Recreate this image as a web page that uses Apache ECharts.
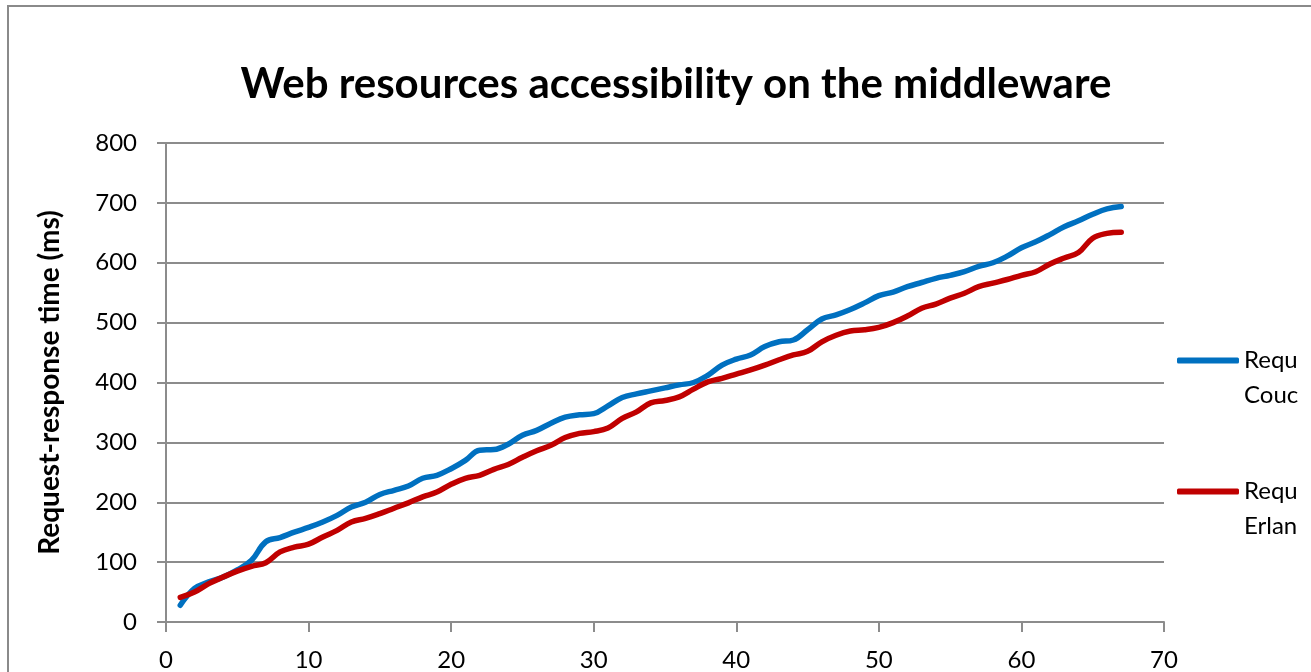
<!DOCTYPE html>
<html>
<head>
<meta charset="utf-8">
<title>Web resources accessibility on the middleware</title>
<script src="https://cdn.jsdelivr.net/npm/echarts@6/dist/echarts.min.js"></script>
<style>
  html, body { margin: 0; padding: 0; background: #ffffff; }
  #chart { width: 1311px; height: 672px; }
</style>
</head>
<body>
<div id="chart"></div>
<script>
// Request number (x axis)
const requestIndex = [
  1, 2, 3, 4, 5, 6, 7, 8, 9, 10, 11, 12, 13, 14, 15, 16, 17, 18, 19, 20,
  21, 22, 23, 24, 25, 26, 27, 28, 29, 30, 31, 32, 33, 34, 35, 36, 37, 38, 39, 40,
  41, 42, 43, 44, 45, 46, 47, 48, 49, 50, 51, 52, 53, 54, 55, 56, 57, 58, 59, 60,
  61, 62, 63, 64, 65, 66, 67
];

// Request-response time in ms, CouchDB path
const couchdbTimes = [
  28, 56, 67, 75, 87, 103, 134, 141, 150, 158, 167, 178, 192, 200, 213, 220, 227, 240, 245, 256,
  270, 287, 288, 297, 312, 320, 332, 342, 346, 348, 361, 375, 381, 386, 391, 396, 400, 412, 429, 439,
  446, 460, 468, 471, 488, 506, 513, 522, 533, 545, 551, 560, 567, 574, 579, 585, 594, 600, 611, 625,
  635, 647, 660, 670, 681, 690, 694
];

// Request-response time in ms, Erlang path
const erlangTimes = [
  41, 50, 64, 75, 85, 93, 99, 117, 125, 130, 142, 153, 167, 173, 181, 190, 199, 209, 217, 230,
  240, 245, 255, 263, 275, 286, 295, 308, 315, 318, 324, 340, 351, 366, 370, 376, 389, 401, 407, 414,
  421, 429, 438, 446, 452, 468, 479, 486, 488, 492, 500, 511, 524, 531, 541, 549, 560, 566, 572, 579,
  585, 598, 608, 617, 641, 649, 651
];

const seriesNames = ['Request-response\nCouchDB', 'Request-response\nErlang'];
const xTicks = { min: 0, max: 70, interval: 10 };
const yTicks = { min: 0, max: 800, interval: 100 };

const pair = (ys) => requestIndex.map((x, i) => [x, ys[i]]);

const gridColor = '#8c8c8c';
const fontFamily = 'Lato, "Open Sans", sans-serif';

const chart = echarts.init(document.getElementById('chart'), null, { renderer: 'canvas' });

chart.setOption({
  backgroundColor: '#ffffff',
  animation: false,
  graphic: [{
    type: 'rect',
    silent: true,
    z: -10,
    shape: { x: 8, y: 6, width: 1400, height: 800 },
    style: { fill: 'none', stroke: '#8a8a8a', lineWidth: 2 }
  }],
  title: {
    text: 'Web resources accessibility on the middleware',
    left: 676,
    top: 63,
    textAlign: 'center',
    padding: 0,
    textStyle: { fontFamily, fontWeight: 'bold', fontSize: 42, color: '#000000' }
  },
  legend: {
    orient: 'vertical',
    left: 1177,
    top: 308,
    padding: 0,
    icon: 'roundRect',
    itemWidth: 62,
    itemHeight: 6,
    itemGap: 26,
    selectedMode: false,
    // leading blank line keeps the first text line level with the swatch
    formatter: (name) => '\n' + name,
    textStyle: {
      fontFamily, fontSize: 24, color: '#000000',
      lineHeight: 35, width: 57, overflow: 'truncate', ellipsis: ''
    },
    data: seriesNames
  },
  grid: {
    left: 166, right: 147, top: 143, bottom: 50,
    outerBoundsMode: 'none'
  },
  xAxis: {
    type: 'value',
    min: xTicks.min, max: xTicks.max, interval: xTicks.interval,
    axisLine: { lineStyle: { color: gridColor, width: 2 } },
    axisTick: { show: true, length: 10, lineStyle: { color: gridColor, width: 2 } },
    axisLabel: { fontFamily, fontSize: 24, color: '#000000', margin: 26 },
    splitLine: { show: false }
  },
  yAxis: {
    type: 'value',
    min: yTicks.min, max: yTicks.max, interval: yTicks.interval,
    name: 'Request-response time (ms)',
    nameLocation: 'middle',
    nameRotate: 90,
    nameGap: 102,
    nameTextStyle: { fontFamily, fontWeight: 'bold', fontSize: 28, color: '#000000' },
    axisLine: { show: true, lineStyle: { color: gridColor, width: 2 } },
    axisTick: { show: true, length: 9, lineStyle: { color: gridColor, width: 2 } },
    axisLabel: { fontFamily, fontSize: 24, color: '#000000', margin: 29 },
    splitLine: { show: true, lineStyle: { color: gridColor, width: 2 } }
  },
  series: [
    {
      name: seriesNames[0],
      type: 'line',
      data: pair(couchdbTimes),
      symbol: 'none',
      smooth: 0.4,
      color: '#0070c0',
      lineStyle: { width: 5.5, color: '#0070c0', cap: 'round', join: 'round' }
    },
    {
      name: seriesNames[1],
      type: 'line',
      data: pair(erlangTimes),
      symbol: 'none',
      smooth: 0.4,
      color: '#c00000',
      lineStyle: { width: 5.5, color: '#c00000', cap: 'round', join: 'round' }
    }
  ]
});
</script>
</body>
</html>
